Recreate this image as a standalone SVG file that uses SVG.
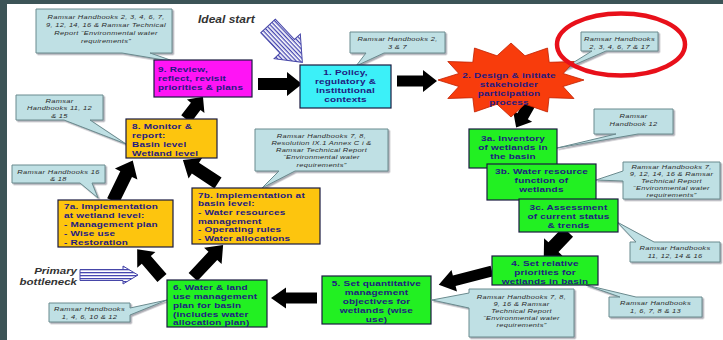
<svg xmlns="http://www.w3.org/2000/svg" width="723" height="340" viewBox="0 0 723 340">
<style>
.cb{fill:#bfe0e4;stroke:#6a8a8e;stroke-width:1;filter:url(#sh)}
.ct{font-family:"Liberation Sans",Arial,sans-serif;font-style:italic;font-size:7.5px;fill:#2b2b2b;text-anchor:middle;letter-spacing:0.3px}
.nt{font-family:"Liberation Sans",Arial,sans-serif;font-weight:bold;font-size:10px;fill:#1f1a80;letter-spacing:0.2px}
.c{text-anchor:middle}
.box{stroke:#1a1a40;stroke-width:1.2}
.mag{fill:#ff14f5}.cyan{fill:#3cf0f8}.grn{fill:#22f022}.org{fill:#fdc50e}
.arr{fill:#000}
.sarr{fill:url(#stripes);stroke:#4646a8;stroke-width:1}
.lbl{font-family:"Liberation Sans",Arial,sans-serif;font-weight:bold;font-style:italic;fill:#333}
</style>
<defs>
<pattern id="stripes" width="3" height="3" patternUnits="userSpaceOnUse"><rect width="3" height="3" fill="#fff"/><rect width="3" height="1.3" fill="#4646b0"/></pattern>
<filter id="sh" x="-10%" y="-10%" width="120%" height="130%"><feDropShadow dx="1.5" dy="1.5" stdDeviation="0.6" flood-color="#556" flood-opacity="0.5"/></filter>
</defs>
<rect x="0" y="0" width="723" height="340" fill="#3c5457"/>
<rect x="7" y="4" width="716" height="336" fill="#ffffff"/>

<g id="connectors">
<polygon class="arr" transform="translate(258,84)" points="0,-6 29,-6 29,-12 44,0 29,12 29,6 0,6"/>
<polygon class="arr" transform="translate(397,81)" points="0,-5.5 26,-5.5 26,-11 40,0 26,11 26,5.5 0,5.5"/>
<polygon class="arr" transform="translate(533,98) rotate(119.7)" points="0,-6 21,-6 21,-11 34,0 21,11 21,6 0,6"/>
<polygon class="arr" transform="translate(568,232) rotate(133.8)" points="0,-7 21,-7 21,-13 35,0 21,13 21,7 0,7"/>
<polygon class="arr" transform="translate(492,271) rotate(165.5)" points="0,-5.5 39,-5.5 39,-11 55,0 39,11 39,5.5 0,5.5"/>
<polygon class="arr" transform="translate(317,298) rotate(180)" points="0,-5.5 31,-5.5 31,-10.5 46,0 31,10.5 31,5.5 0,5.5"/>
<polygon class="arr" transform="translate(193,277) rotate(-46.8)" points="0,-6 29,-6 29,-12 44,0 29,12 29,6 0,6"/>
<polygon class="arr" transform="translate(162,278) rotate(-130.8)" points="0,-6 24,-6 24,-12 38,0 24,12 24,6 0,6"/>
<polygon class="arr" transform="translate(113,201) rotate(-64)" points="0,-6.5 30,-6.5 30,-12.5 45,0 30,12.5 30,6.5 0,6.5"/>
<polygon class="arr" transform="translate(218,183) rotate(-146.7)" points="0,-6.5 27,-6.5 27,-12.5 42,0 27,12.5 27,6.5 0,6.5"/>
<polygon class="arr" transform="translate(186,119) rotate(-52.7)" points="0,-6 16,-6 16,-11 28,0 16,11 16,6 0,6"/>
<polygon class="sarr" transform="translate(268,26) rotate(46.6)" points="0,-10 28,-10 28,-18 50,0 28,18 28,10 0,10"/>
<polygon class="sarr" transform="translate(80,275)" points="0,-5.5 43,-5.5 43,-9 58,0 43,9 43,5.5 0,5.5"/>
</g>

<g id="labels">
<text class="lbl" x="198" font-size="12" transform="translate(0,23) scale(1,0.9)">Ideal start</text>
<text class="lbl" x="77" font-size="11.5" text-anchor="end" transform="translate(0,274) scale(1,0.85)">Primary</text>
<text class="lbl" x="77" font-size="11.5" text-anchor="end" transform="translate(0,285) scale(1,0.85)">bottleneck</text>
</g>

<g id="callout-c1">
<path class="cb" d="M36,9 H172 V53 H150 L176,62 L122,53 H36 Z"/>
<text class="ct" x="106" transform="translate(0,18.5) scale(1,0.82)">Ramsar Handbooks 2, 3, 4, 6, 7,</text>
<text class="ct" x="106" transform="translate(0,26.5) scale(1,0.82)">9, 12, 14, 16 &amp; Ramsar Technical</text>
<text class="ct" x="106" transform="translate(0,34.5) scale(1,0.82)">Report “Environmental water</text>
<text class="ct" x="106" transform="translate(0,42.5) scale(1,0.82)">requirements”</text>
</g>
<g id="callout-c2">
<path class="cb" d="M350,32 H445 V53 H384 L356,66 L366,53 H350 Z"/>
<text class="ct" x="397.5" transform="translate(0,41) scale(1,0.82)">Ramsar Handbooks 2,</text>
<text class="ct" x="397.5" transform="translate(0,48.5) scale(1,0.82)">3 &amp; 7</text>
</g>
<g id="callout-c3">
<path class="cb" d="M581,32 H658 V51 H606 L558,72 L592,51 H581 Z"/>
<text class="ct" x="619.5" transform="translate(0,40.5) scale(1,0.82)">Ramsar Handbooks</text>
<text class="ct" x="619.5" transform="translate(0,48.5) scale(1,0.82)">2, 3, 4, 6, 7 &amp; 17</text>
</g>
<g id="callout-c4">
<path class="cb" d="M594,109 H673 V134 H638 L557,148 L616,134 H594 Z"/>
<text class="ct" x="633.5" transform="translate(0,118) scale(1,0.82)">Ramsar</text>
<text class="ct" x="633.5" transform="translate(0,126) scale(1,0.82)">Handbook 12</text>
</g>
<g id="callout-c5">
<path class="cb" d="M623,162 H720 V199 H623 V181 L596,180 L623,171 Z"/>
<text class="ct" x="671.5" transform="translate(0,168.5) scale(1,0.82)">Ramsar Handbooks 7,</text>
<text class="ct" x="671.5" transform="translate(0,175.5) scale(1,0.82)">9, 12, 14, 16 &amp; Ramsar</text>
<text class="ct" x="671.5" transform="translate(0,182.5) scale(1,0.82)">Technical Report</text>
<text class="ct" x="671.5" transform="translate(0,189.5) scale(1,0.82)">“Environmental water</text>
<text class="ct" x="671.5" transform="translate(0,196.5) scale(1,0.82)">requirements”</text>
</g>
<g id="callout-c6">
<path class="cb" d="M630,242 H636 L617,222 L654,242 H720 V262 H630 Z"/>
<text class="ct" x="675" transform="translate(0,250) scale(1,0.82)">Ramsar Handbooks</text>
<text class="ct" x="675" transform="translate(0,257.5) scale(1,0.82)">11, 12, 14 &amp; 16</text>
</g>
<g id="callout-c7">
<path class="cb" d="M609,297 H620 L586,285 L636,297 H702 V317 H609 Z"/>
<text class="ct" x="655.5" transform="translate(0,305) scale(1,0.82)">Ramsar Handbooks</text>
<text class="ct" x="655.5" transform="translate(0,312.5) scale(1,0.82)">1, 6, 7, 8 &amp; 13</text>
</g>
<g id="callout-c8">
<path class="cb" d="M469,289 H574 V337 H469 V308 L432,300 L469,293 Z"/>
<text class="ct" x="521.5" transform="translate(0,298.5) scale(1,0.82)">Ramsar Handbooks 7, 8,</text>
<text class="ct" x="521.5" transform="translate(0,305.5) scale(1,0.82)">9, 16 &amp; Ramsar</text>
<text class="ct" x="521.5" transform="translate(0,312.5) scale(1,0.82)">Technical Report</text>
<text class="ct" x="521.5" transform="translate(0,319.5) scale(1,0.82)">“Environmental water</text>
<text class="ct" x="521.5" transform="translate(0,326.5) scale(1,0.82)">requirements”</text>
</g>
<g id="callout-c9">
<path class="cb" d="M255,129 H388 V171 H295 L262,188 L279,171 H255 Z"/>
<text class="ct" x="321.5" transform="translate(0,137.5) scale(1,0.82)">Ramsar Handbooks 7, 8,</text>
<text class="ct" x="321.5" transform="translate(0,144.5) scale(1,0.82)">Resolution IX.1 Annex C i &amp;</text>
<text class="ct" x="321.5" transform="translate(0,151.5) scale(1,0.82)">Ramsar Technical Report</text>
<text class="ct" x="321.5" transform="translate(0,159) scale(1,0.82)">“Environmental water</text>
<text class="ct" x="321.5" transform="translate(0,166.5) scale(1,0.82)">requirements”</text>
</g>
<g id="callout-c10">
<path class="cb" d="M16,95 H103 V120 H90 L126,144 L64,120 H16 Z"/>
<text class="ct" x="59.5" transform="translate(0,102.5) scale(1,0.82)">Ramsar</text>
<text class="ct" x="59.5" transform="translate(0,110) scale(1,0.82)">Handbooks 11, 12</text>
<text class="ct" x="59.5" transform="translate(0,117.5) scale(1,0.82)">&amp; 15</text>
</g>
<g id="callout-c11">
<path class="cb" d="M12,165 H105 V183 H92 L98,198 L80,183 H12 Z"/>
<text class="ct" x="58.5" transform="translate(0,173.5) scale(1,0.82)">Ramsar Handbooks 16</text>
<text class="ct" x="58.5" transform="translate(0,180.5) scale(1,0.82)">&amp; 18</text>
</g>
<g id="callout-c12">
<path class="cb" d="M49,303 H130 V308 L167,300 L130,315 V322 H49 Z"/>
<text class="ct" x="89.5" transform="translate(0,311) scale(1,0.82)">Ramsar Handbooks</text>
<text class="ct" x="89.5" transform="translate(0,318.5) scale(1,0.82)">1, 4, 6, 10 &amp; 12</text>
</g>

<g id="node-9">
<rect class="box mag" x="154" y="60" width="98" height="37"/>
<text class="nt" x="158" transform="translate(0,71.5) scale(1,0.78)">9. Review,</text>
<text class="nt" x="158" transform="translate(0,80.5) scale(1,0.78)">reflect, revisit</text>
<text class="nt" x="158" transform="translate(0,89.5) scale(1,0.78)">priorities &amp; plans</text>
</g>
<g id="node-1">
<rect class="box cyan" x="300" y="65" width="91" height="43"/>
<text class="nt c" x="345.5" transform="translate(0,75) scale(1,0.78)">1. Policy,</text>
<text class="nt c" x="345.5" transform="translate(0,84) scale(1,0.78)">regulatory &amp;</text>
<text class="nt c" x="345.5" transform="translate(0,93) scale(1,0.78)">institutional</text>
<text class="nt c" x="345.5" transform="translate(0,102) scale(1,0.78)">contexts</text>
</g>
<g id="node-2">
<polygon fill="#f83c0c" stroke="#c02000" stroke-width="0.8" points="584,80 563,86.5 574,98.5 549,97.7 547.5,112 525,104.2 511,117 497,104.2 474.5,112 472.8,97.7 447.8,98.5 458.8,86.5 438,80 458.8,73.5 447.8,61.5 472.8,62.3 474.5,48 497,55.8 511,43 525,55.8 547.5,48 549.2,62.3 574.2,61.5 563.2,73.5"/>
<text class="nt c" x="509" transform="translate(0,77.5) scale(1,0.8)">2. Design &amp; initiate</text>
<text class="nt c" x="509" transform="translate(0,86.5) scale(1,0.8)">stakeholder</text>
<text class="nt c" x="509" transform="translate(0,95.5) scale(1,0.8)">participation</text>
<text class="nt c" x="509" transform="translate(0,104.5) scale(1,0.8)">process</text>
</g>
<g id="node-3a">
<rect class="box grn" x="469" y="129" width="88" height="39"/>
<text class="nt c" x="513" transform="translate(0,140.5) scale(1,0.78)">3a. Inventory</text>
<text class="nt c" x="513" transform="translate(0,149.5) scale(1,0.78)">of wetlands in</text>
<text class="nt c" x="513" transform="translate(0,158.5) scale(1,0.78)">the basin</text>
</g>
<g id="node-3b">
<rect class="box grn" x="487" y="164" width="109" height="36"/>
<text class="nt c" x="541.5" transform="translate(0,173.5) scale(1,0.78)">3b. Water resource</text>
<text class="nt c" x="541.5" transform="translate(0,182.5) scale(1,0.78)">function of</text>
<text class="nt c" x="541.5" transform="translate(0,191.5) scale(1,0.78)">wetlands</text>
</g>
<g id="node-3c">
<rect class="box grn" x="519" y="199" width="99" height="33"/>
<text class="nt c" x="568.5" transform="translate(0,210) scale(1,0.78)">3c. Assessment</text>
<text class="nt c" x="568.5" transform="translate(0,219) scale(1,0.78)">of current status</text>
<text class="nt c" x="568.5" transform="translate(0,228) scale(1,0.78)">&amp; trends</text>
</g>
<g id="node-4">
<rect class="box grn" x="492" y="256" width="106" height="29"/>
<text class="nt c" x="545" transform="translate(0,265.5) scale(1,0.78)">4. Set relative</text>
<text class="nt c" x="545" transform="translate(0,274.5) scale(1,0.78)">priorities for</text>
<text class="nt c" x="545" transform="translate(0,283.5) scale(1,0.78)">wetlands in basin</text>
</g>
<g id="node-5">
<rect class="box grn" x="322" y="276" width="109" height="48"/>
<text class="nt c" x="376.5" transform="translate(0,286) scale(1,0.78)">5. Set quantitative</text>
<text class="nt c" x="376.5" transform="translate(0,295) scale(1,0.78)">management</text>
<text class="nt c" x="376.5" transform="translate(0,304) scale(1,0.78)">objectives for</text>
<text class="nt c" x="376.5" transform="translate(0,313) scale(1,0.78)">wetlands (wise</text>
<text class="nt c" x="376.5" transform="translate(0,322) scale(1,0.78)">use)</text>
</g>
<g id="node-6">
<rect class="box grn" x="167" y="280" width="100" height="47"/>
<text class="nt" x="173" transform="translate(0,289.5) scale(1,0.78)">6. Water &amp; land</text>
<text class="nt" x="173" transform="translate(0,298.5) scale(1,0.78)">use management</text>
<text class="nt" x="173" transform="translate(0,307.5) scale(1,0.78)">plan for basin</text>
<text class="nt" x="173" font-size="9.5" transform="translate(0,316.5) scale(1,0.78)">(includes water</text>
<text class="nt" x="173" font-size="9.5" transform="translate(0,325) scale(1,0.78)">allocation plan)</text>
</g>
<g id="node-7b">
<rect class="box org" x="192" y="188" width="128" height="56"/>
<text class="nt" x="198" transform="translate(0,197.5) scale(1,0.76)">7b. Implementation at</text>
<text class="nt" x="198" transform="translate(0,206.2) scale(1,0.76)">basin level:</text>
<text class="nt" x="198" transform="translate(0,214.9) scale(1,0.76)">- Water resources</text>
<text class="nt" x="198" transform="translate(0,223.6) scale(1,0.76)">management</text>
<text class="nt" x="198" transform="translate(0,232.3) scale(1,0.76)">- Operating rules</text>
<text class="nt" x="198" transform="translate(0,241) scale(1,0.76)">- Water allocations</text>
</g>
<g id="node-7a">
<rect class="box org" x="58" y="200" width="115" height="47"/>
<text class="nt" x="64" transform="translate(0,209) scale(1,0.78)">7a. Implementation</text>
<text class="nt" x="64" transform="translate(0,218) scale(1,0.78)">at wetland level:</text>
<text class="nt" x="64" transform="translate(0,227) scale(1,0.78)">- Management plan</text>
<text class="nt" x="64" transform="translate(0,236) scale(1,0.78)">- Wise use</text>
<text class="nt" x="64" transform="translate(0,245) scale(1,0.78)">- Restoration</text>
</g>
<g id="node-8">
<rect class="box org" x="126" y="119" width="91" height="39"/>
<text class="nt" x="132" transform="translate(0,128.5) scale(1,0.78)">8. Monitor &amp;</text>
<text class="nt" x="132" transform="translate(0,137.5) scale(1,0.78)">report:</text>
<text class="nt" x="132" transform="translate(0,146.5) scale(1,0.78)">Basin level</text>
<text class="nt" x="132" transform="translate(0,155.5) scale(1,0.78)">Wetland level</text>
</g>

<g id="highlight">
<ellipse cx="621" cy="44.5" rx="64" ry="31" fill="none" stroke="#e8101a" stroke-width="4.5"/>
</g>
</svg>
